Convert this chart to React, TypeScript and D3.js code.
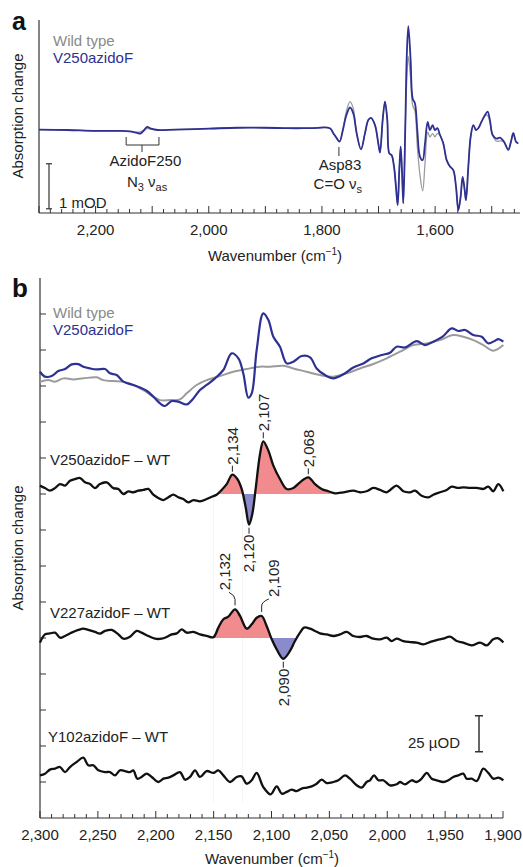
import * as d3 from 'd3';

type Pt = [number, number];

const FONT = '"Liberation Sans", Arial, Helvetica, sans-serif';
const BLUE = '#2e3192';
const GRAY = '#9b9b9b';
const INK = '#222';
const PINK = '#f28b8d';
const LAVENDER = '#8a8acc';

// ---- panel a : wavenumber (cm-1) / absorption change (mOD)
const aWave = [
  2300, 2250, 2200, 2160, 2140, 2128, 2121, 2114, 2109, 2102, 2090, 2060, 2000, 1950, 1900, 1860,
  1820, 1786, 1780, 1774, 1769, 1763, 1757.5, 1750.4, 1744.6, 1738.7, 1731, 1723.9, 1718.1, 1713.3,
  1706.3, 1700.4, 1697.4, 1692.7, 1688.6, 1684.5, 1681, 1676.8, 1672.7, 1669.2, 1666.2, 1663.3,
  1660.9, 1658.6, 1656.2, 1652.7, 1650.3, 1647.4, 1643.3, 1639.7, 1635.6, 1631.5, 1626.8, 1622,
  1617.9, 1613.2, 1609.1, 1604.4, 1600.3, 1596.1, 1591.4, 1585.5, 1579.6, 1573.8, 1567.9, 1563.1,
  1559, 1554.9, 1551.4, 1547.8, 1545.5, 1541.3, 1537.2, 1532.5, 1527.8, 1523.7, 1517.8, 1511.9,
  1507.2, 1503.1, 1498.4, 1491.3, 1485.4, 1478.3, 1470.7, 1466, 1461.8, 1457.1, 1453,
];
const aMutant = [
  0.01, 0, -0.02, -0.02, -0.03, -0.06, -0.08, 0, 0.07, 0.03, 0, 0.01, 0.03, 0.05, 0.05, 0.04,
  0.04, 0.04, -0.07, -0.18, -0.26, 0, 0.3, 0.5, 0.37, -0.07, -0.43, -0.07, 0.22, 0.27,
  0.11, -0.3, -0.5, 0.22, 0.63, 0.22, -0.52, -0.56, -0.81, -1.26, -1.67, -0.89,
  -0.37, -0.89, -1.63, 0.07, 1.56, 2.31, 1.56, 0.7, 0.59, 0, -0.59, -0.67,
  -0.3, 0.18, 0, 0.11, 0, 0.04, -0.11, -0.3, -0.67, -0.81, -0.89, -1.26,
  -1.78, -1.48, -1.04, -1.33, -1.56, -0.81, -0.15, 0.11, 0, 0.04, 0.19, 0.33,
  0.41, 0.22, -0.11, -0.19, -0.17, -0.26, -0.44, -0.26, -0.07, -0.26, -0.3,
];
const aWildType = [
  0.01, 0, -0.02, -0.02, -0.03, -0.05, -0.04, 0, 0.03, 0.02, 0, 0.01, 0.03, 0.05, 0.05, 0.04,
  0.04, 0.04, -0.07, -0.18, -0.26, 0, 0.38, 0.63, 0.48, -0.07, -0.43, -0.07, 0.22, 0.27,
  0.11, -0.3, -0.5, 0.22, 0.63, 0.22, -0.52, -0.56, -0.81, -1.26, -1.67, -0.89,
  -0.37, -0.89, -1.63, 0.07, 1.05, 1.63, 1.15, 0.55, 0.42, -0.35, -1.0, -1.35,
  -0.75, -0.05, -0.15, -0.08, -0.15, -0.08, -0.11, -0.3, -0.67, -0.81, -0.89, -1.26,
  -1.78, -1.48, -1.04, -1.33, -1.56, -0.81, -0.15, 0.11, 0, 0.04, 0.19, 0.33,
  0.32, 0.17, -0.11, -0.25, -0.24, -0.26, -0.44, -0.26, -0.07, -0.26, -0.3,
];
const aTickLabels = [2200, 2000, 1800, 1600];

// ---- panel b : wavenumber (cm-1) / absorption change (µOD), each trace around its own zero
const bTopMutant: Pt[] = [
  [2300, -15.1], [2295.7, -18.5], [2289.9, -18.1], [2284.2, -14.6], [2278.4, -13.2], [2272.7, -10],
  [2266.9, -9.8], [2262.6, -11.6], [2256.8, -12.8], [2251, -13.5], [2243.8, -13.2], [2239.5, -16.2],
  [2233.8, -17.4], [2228, -22], [2220.8, -23.9], [2213.6, -26], [2207.9, -28.3], [2202.1, -32.4],
  [2196.3, -37.1], [2192, -38.9], [2186.2, -35.4], [2180.5, -35.9], [2173.3, -37.8], [2167.5, -33.6],
  [2161.8, -27.8], [2156, -24.3], [2148.8, -19.7], [2141.6, -13.9], [2134.4, -2.3], [2128.6, -5.8],
  [2124.4, -16.2], [2120, -33.1], [2117.1, -30.1], [2112.8, 0], [2107.1, 25.4], [2102.7, 20.8],
  [2098.4, 9.2], [2092.7, 2.3], [2086.9, -9.3], [2081.1, -8.1], [2073.9, -4.2], [2066.7, -5.1],
  [2061, -12.8], [2053.8, -17.4], [2046.6, -19.7], [2037.9, -16.9], [2029.3, -12.1], [2020.7, -9.3],
  [2013.5, -5.8], [2004.8, -3.5], [1997.6, -1.9], [1991.9, 2.3], [1984.7, 1.8], [1974.6, 6.2],
  [1967.4, 3.4], [1960.2, 5.8], [1951.6, 9.7], [1944.4, 15], [1938.6, 13.2], [1932.8, 13.9],
  [1925.6, 10.4], [1918.4, 9.2], [1912.7, 4.6], [1906.9, 6.5], [1904, 7.6], [1899.7, 5.8],
];
const bTopWildType: Pt[] = [
  [2300, -22], [2292.8, -20.9], [2287.1, -22], [2279.8, -19.7], [2271.2, -20.4], [2262.6, -19.7],
  [2251, -19], [2245.3, -20.9], [2236.6, -21.6], [2228, -22], [2219.4, -24.3], [2210.7, -27.8],
  [2202.1, -32.4], [2196.3, -34.8], [2187.7, -34.8], [2179.1, -34.3], [2173.3, -30.1], [2164.7, -24.3],
  [2156, -20.9], [2144.5, -18.1], [2133, -15.1], [2121.5, -13.2], [2109.9, -11.6], [2101.3, -11.6],
  [2089.8, -10.9], [2081.1, -12.8], [2069.6, -15.1], [2058.1, -17.4], [2046.6, -18.5], [2035, -16.2],
  [2023.5, -12.8], [2012, -9.7], [2000.5, -5.8], [1989, -1.2], [1977.5, 3.4], [1966, 4.6],
  [1954.5, 6.9], [1943, 10.4], [1934.3, 9.2], [1925.6, 6.9], [1917, 3.4], [1908.4, -0.5], [1899.7, 3.4],
];
const bDiff250: Pt[] = [
  [2300, 5.8], [2295.7, 4.1], [2291.4, 2.3], [2287, 4.1], [2282.7, 6.9], [2278.4, 5.8], [2274.1, 9.2],
  [2269.8, 10.4], [2265.4, 11.1], [2261.1, 8.1], [2256.8, 6.9], [2252.5, 4.1], [2248.2, 6.9],
  [2242.4, 8.1], [2236.6, 4.1], [2232.3, 3.5], [2228, 0], [2223.7, 1.8], [2219.4, 1.2], [2215, 2.3],
  [2210.7, 2.8], [2206.4, 3.5], [2202.1, -0.5], [2197.8, -2.8], [2193.4, -4.2], [2189.1, -2.3],
  [2184.8, -0.5], [2180.5, -2.3], [2176.2, -3.5], [2171.9, -5.8], [2167.5, -4.2], [2161.8, -5.1],
  [2156, -3.5], [2151.7, -1.9], [2147.4, -0.5], [2143.1, 2.8], [2138.7, 6.9], [2133.8, 13.4],
  [2129.5, 10.4], [2125.8, 3.5], [2122.3, -9.3], [2119.4, -21.3], [2116.6, -13.9], [2113.7, 3.5],
  [2109.9, 27.8], [2107.1, 36.6], [2102.7, 30.1], [2098.4, 19.7], [2092.7, 10.4], [2086.9, 3.5],
  [2081.1, 4.2], [2075.4, 8.1], [2068.2, 11.6], [2062.4, 6.9], [2056.7, 3.5], [2050.9, 1.9],
  [2045.1, 0.5], [2037.9, 1.2], [2029.3, 2.3], [2023.5, 1.2], [2017.8, 1.9], [2012, 4.2],
  [2006.2, 2.8], [2000.5, 1.2], [1991.9, 5.8], [1986.1, 1.9], [1980.4, 1.2], [1976, 2.3],
  [1970.3, -1.2], [1964.5, -2.3], [1960.2, -0.5], [1954.5, 1.2], [1948.7, 2.8], [1944.4, 5.1],
  [1938.6, 4.2], [1934.3, 4.6], [1928.5, 4.2], [1922.7, 4.2], [1917, 3.5], [1912.7, 5.1],
  [1908.4, 1.9], [1904, 6.9], [1899.7, 1.9],
];
const bDiff227: Pt[] = [
  [2300, -3.2], [2295.7, 2.5], [2291.4, 3.2], [2287, 3.7], [2282.7, 0.2], [2278.4, 1.4], [2272.7, 3.7],
  [2266.9, 5.6], [2262.6, 6.5], [2258.3, 5.6], [2252.5, 4.2], [2248.2, 3], [2243.8, 4.9],
  [2238.1, 5.6], [2232.3, 2.5], [2228, -0.5], [2222.2, 0.9], [2216.5, 4.9], [2212.2, 3.7],
  [2206.4, 1.4], [2200.6, -0.5], [2194.9, -0.5], [2190.6, 0.7], [2186.2, 2.5], [2181.9, 3.2],
  [2177.6, 6], [2173.3, 3.7], [2167.5, 4.2], [2161.8, 2.5], [2156, 1.4], [2150.2, 0.5],
  [2145.9, 7.2], [2141.6, 13], [2137.3, 14.8], [2131.5, 19.9], [2127.2, 15.3], [2121.4, 6.5],
  [2117.1, 9.5], [2112.8, 14.1], [2108.5, 15.3], [2104.2, 8.3], [2099.8, -0.9], [2095.5, -7.9],
  [2089.8, -14.4], [2084, -9], [2079.7, -2.1], [2075.4, 3.7], [2071.9, 7.2], [2066.7, 6.5],
  [2062.4, 4.9], [2058.1, 3.2], [2052.3, 2.5], [2046.6, 1.4], [2040.8, 2.5], [2035, 4.2],
  [2029.3, 1.4], [2023.5, 0.7], [2017.8, 1.4], [2012, -0.5], [2006.2, -0.9], [2000.5, 0.2],
  [1996.2, -2.1], [1991.9, -0.5], [1986.1, -2.1], [1980.4, -2.8], [1974.6, -3.2], [1968.8, -4.4],
  [1963.1, -2.8], [1957.3, -1.4], [1951.6, -0.5], [1945.8, 0.9], [1940, -2.1], [1934.3, -3.2],
  [1927.1, -5.1], [1919.8, -3.2], [1914.1, -5.1], [1908.4, -0.9], [1904, -0.2], [1899.7, -3.2],
];
const bDiff102: Pt[] = [
  [2300, 4.6], [2295.7, 5.8], [2291.4, 8.6], [2287, 9.3], [2282.7, 10.4], [2278.4, 6.9], [2274.1, 10.4],
  [2268.3, 13.9], [2262.6, 16.9], [2258.3, 11.6], [2253.9, 11.6], [2249.6, 8.1], [2243.8, 6.9],
  [2239.5, 6.9], [2235.2, 4.6], [2230.9, 8.1], [2226.6, 7.6], [2222.2, 6.9], [2219.4, 8.1],
  [2215.9, 2.3], [2212.2, 3.5], [2207.9, 5.8], [2203.5, 3.5], [2197.8, 0], [2193.4, 2.3],
  [2189.1, 3], [2184.8, 4.6], [2179.1, 6.9], [2174.7, 1.6], [2170.4, 3.5], [2166.1, 8.1],
  [2161.8, 3.5], [2156, 7.6], [2150.2, 6.3], [2145.9, 8.1], [2141.6, 4.6], [2135.8, 0],
  [2130.1, 3.5], [2125.8, 3.9], [2121.4, -1.2], [2117.1, 1.2], [2112.8, 6.3], [2107.1, -3.5],
  [2100.7, -8.6], [2095.5, -3], [2091.2, -8.1], [2086.9, -6.9], [2082.6, -5.3], [2078.3, -6.3],
  [2073.9, -4.6], [2069.6, -3.9], [2065.3, -3], [2061, -1.2], [2056.7, 1.6], [2052.3, -0.7],
  [2046.6, 0], [2042.2, 1.2], [2036.5, 4.6], [2032.2, 2.3], [2026.4, -2.3], [2022.1, -3.9],
  [2017.8, 0], [2014.9, 1.2], [2011.4, 4.6], [2007.7, 1.2], [2003.4, 1.2], [1997.6, -2.3],
  [1991.9, -1.6], [1989, 0], [1984.7, -1.6], [1978.9, 1.2], [1974.6, 0], [1970.3, 2.3],
  [1965.9, 6.3], [1961.6, 2.3], [1957.3, 1.2], [1951.5, 0], [1947.2, 1.2], [1942.9, 3.5],
  [1938.6, 4.6], [1934.3, 5.8], [1931.4, 2.3], [1927.1, 2.3], [1922.7, 0.7], [1917, 9.3],
  [1912.7, 6.3], [1908.4, 2.3], [1904, 3], [1899.7, 1.2],
];
const bTickLabels = [2300, 2250, 2200, 2150, 2100, 2050, 2000, 1950, 1900];

const peaks250 = [
  { w: 2134, label: '2,134', side: 'up', bend: 0 },
  { w: 2107, label: '2,107', side: 'up', bend: 0 },
  { w: 2068, label: '2,068', side: 'up', bend: 0 },
  { w: 2120, label: '2,120', side: 'down', bend: 0 },
];
const peaks227 = [
  { w: 2132, label: '2,132', side: 'up', bend: -10 },
  { w: 2109, label: '2,109', side: 'up', bend: 12 },
  { w: 2090, label: '2,090', side: 'down', bend: 0 },
];

const smooth = d3.curveCatmullRom.alpha(0.5);
const fmt = d3.format(',');

function nearest(series: Pt[], w: number): Pt {
  return d3.least(series, (d) => Math.abs(d[0] - w)) as Pt;
}

export default function App() {
  // panel a scales
  const xA = d3.scaleLinear([2300, 1450], [39, 520]);
  const yA = d3.scaleLinear([-1.844, 2.444], [213, 20]);
  const lineA = d3
    .line<number>()
    .x((d, i) => xA(aWave[i]))
    .y((d) => yA(d))
    .curve(smooth);

  // panel b scales
  const xB = d3.scaleLinear([2300, 1900], [40, 503]);
  const yB = d3.scaleLinear([-25, 350], [818, 278]);
  const lineB = (off: number) =>
    d3
      .line<Pt>()
      .x((d) => xB(d[0]))
      .y((d) => yB(d[1] + off))
      .curve(smooth);
  const areaB = (off: number) =>
    d3
      .area<Pt>()
      .x((d) => xB(d[0]))
      .y0(yB(off))
      .y1((d) => yB(d[1] + off))
      .curve(smooth);

  const fills = [
    { id: 'f250', data: bDiff250, off: 200, from: 2148, to: 2049 },
    { id: 'f227', data: bDiff227, off: 100, from: 2151, to: 2077 },
  ];

  const peakLabels = (series: Pt[], off: number, list: typeof peaks250) =>
    list.map((p, i) => {
      const [pw, pv] = nearest(series, p.w);
      const px = xB(pw);
      const py = yB(pv + off);
      if (p.side === 'down') {
        return (
          <g key={i}>
            <line x1={px} x2={px} y1={py + 3} y2={py + 9} stroke={INK} strokeWidth={1} />
            <text
              transform={`translate(${px},${py + 10}) rotate(-90)`}
              dy="0.35em"
              textAnchor="end"
              fontSize={15}
              fill={INK}
            >
              {p.label}
            </text>
          </g>
        );
      }
      if (p.bend) {
        return (
          <g key={i}>
            <path
              d={`M${px},${py - 4} V${py - 10} Q${px},${py - 14} ${px + p.bend * 0.6},${py - 17}`}
              fill="none"
              stroke={INK}
              strokeWidth={1}
            />
            <text
              transform={`translate(${px + p.bend},${py - 19}) rotate(-90)`}
              dy="0.35em"
              fontSize={15}
              fill={INK}
            >
              {p.label}
            </text>
          </g>
        );
      }
      return (
        <g key={i}>
          <line x1={px} x2={px} y1={py - 3} y2={py - 9} stroke={INK} strokeWidth={1} />
          <text
            transform={`translate(${px},${py - 10}) rotate(-90)`}
            dy="0.35em"
            fontSize={15}
            fill={INK}
          >
            {p.label}
          </text>
        </g>
      );
    });

  return (
    <svg
      width={523}
      height={867}
      style={{ position: 'absolute', left: 0, top: 0, background: '#fff' }}
      fontFamily={FONT}
    >
      {/* ================= panel a ================= */}
      <text x={12} y={30} fontSize={25} fontWeight="bold" fill="#111">a</text>
      <text transform="translate(23,116) rotate(-90)" textAnchor="middle" fontSize={15} fill={INK}>
        Absorption change
      </text>
      <line x1={39} x2={39} y1={20} y2={213} stroke="#333" strokeWidth={1.2} />
      <line x1={39} x2={520} y1={213} y2={213} stroke="#333" strokeWidth={1.2} />
      {d3.range(2300, 1449, -20).map((t) => (
        <line
          key={t}
          x1={xA(t)}
          x2={xA(t)}
          y1={213}
          y2={t % 100 === 0 ? 206 : 209}
          stroke="#333"
          strokeWidth={1}
        />
      ))}
      {aTickLabels.map((t) => (
        <text key={t} x={xA(t)} y={235} textAnchor="middle" fontSize={15} fill={INK}>
          {fmt(t)}
        </text>
      ))}
      <text x={275} y={261} textAnchor="middle" fontSize={15} fill={INK}>
        Wavenumber (cm<tspan fontSize={10} dy={-6}>−1</tspan>
        <tspan dy={6}>)</tspan>
      </text>

      <path d={lineA(aWildType) ?? ''} fill="none" stroke={GRAY} strokeWidth={1.3} />
      <path d={lineA(aMutant) ?? ''} fill="none" stroke={BLUE} strokeWidth={1.8} />

      <text x={53} y={46} fontSize={15} fill="#8a8a8a">Wild type</text>
      <text x={53} y={63} fontSize={15} fill={BLUE}>V250azidoF</text>

      {/* scale bar 1 mOD */}
      <g stroke="#333" strokeWidth={1.2}>
        <line x1={49} x2={49} y1={yA(-1.75)} y2={yA(-0.75)} />
        <line x1={46} x2={52} y1={yA(-1.75)} y2={yA(-1.75)} />
        <line x1={46} x2={52} y1={yA(-0.75)} y2={yA(-0.75)} />
      </g>
      <text x={59} y={208} fontSize={15} fill={INK}>1 mOD</text>

      {/* azide bracket */}
      <path
        d={`M${xA(2146)},137 V145 H${xA(2088)} V137 M${xA(2118)},145 V152`}
        fill="none"
        stroke="#333"
        strokeWidth={1}
      />
      <text x={xA(2112)} y={166} textAnchor="middle" fontSize={15} fill={INK}>AzidoF250</text>
      <text x={xA(2109)} y={187} textAnchor="middle" fontSize={15} fill={INK}>
        N<tspan fontSize={11} dy={4}>3</tspan>
        <tspan dy={-4}> ν</tspan>
        <tspan fontSize={11} dy={4}>as</tspan>
      </text>
      <line x1={xA(1770)} x2={xA(1770)} y1={147} y2={156} stroke="#333" strokeWidth={1} />
      <text x={xA(1768)} y={170} textAnchor="middle" fontSize={15} fill={INK}>Asp83</text>
      <text x={xA(1772)} y={189} textAnchor="middle" fontSize={15} fill={INK}>
        C=O ν<tspan fontSize={11} dy={4}>s</tspan>
      </text>

      {/* ================= panel b ================= */}
      <text x={12} y={297} fontSize={26} fontWeight="bold" fill="#111">b</text>
      <text transform="translate(23,548) rotate(-90)" textAnchor="middle" fontSize={15} fill={INK}>
        Absorption change
      </text>

      {/* faint guide lines */}
      {[2150, 2125].map((w) => (
        <line key={w} x1={xB(w)} x2={xB(w)} y1={yB(200)} y2={yB(-14)} stroke="#f4f4f4" strokeWidth={1} />
      ))}

      <line x1={40} x2={40} y1={278} y2={818} stroke="#333" strokeWidth={1.2} />
      <line x1={40} x2={503} y1={818} y2={818} stroke="#333" strokeWidth={1.2} />
      {d3.range(0, 326, 25).map((t) => (
        <line key={t} x1={40} x2={46} y1={yB(t)} y2={yB(t)} stroke="#333" strokeWidth={1} />
      ))}
      {d3.range(2300, 1899, -10).map((t) => (
        <line
          key={t}
          x1={xB(t)}
          x2={xB(t)}
          y1={818}
          y2={t % 50 === 0 ? 811 : 814}
          stroke="#333"
          strokeWidth={1}
        />
      ))}
      {bTickLabels.map((t) => (
        <text key={t} x={xB(t)} y={840} textAnchor="middle" fontSize={15} fill={INK}>
          {fmt(t)}
        </text>
      ))}
      <text x={272} y={864} textAnchor="middle" fontSize={15} fill={INK}>
        Wavenumber (cm<tspan fontSize={10} dy={-6}>−1</tspan>
        <tspan dy={6}>)</tspan>
      </text>

      {/* top absorption spectra */}
      <path d={lineB(300)(bTopWildType) ?? ''} fill="none" stroke={GRAY} strokeWidth={2} />
      <path d={lineB(300)(bTopMutant) ?? ''} fill="none" stroke={BLUE} strokeWidth={2.2} />
      <text x={53} y={318} fontSize={15} fill="#8a8a8a">Wild type</text>
      <text x={53} y={335} fontSize={15} fill={BLUE}>V250azidoF</text>

      {/* shaded bands */}
      <defs>
        {fills.map((f) => (
          <g key={f.id}>
            <clipPath id={`${f.id}p`}>
              <rect x={xB(f.from)} width={xB(f.to) - xB(f.from)} y={278} height={yB(f.off) - 278} />
            </clipPath>
            <clipPath id={`${f.id}n`}>
              <rect x={xB(f.from)} width={xB(f.to) - xB(f.from)} y={yB(f.off)} height={818 - yB(f.off)} />
            </clipPath>
          </g>
        ))}
      </defs>
      {fills.map((f) => (
        <g key={f.id}>
          <path d={areaB(f.off)(f.data) ?? ''} fill={PINK} clipPath={`url(#${f.id}p)`} />
          <path d={areaB(f.off)(f.data) ?? ''} fill={LAVENDER} clipPath={`url(#${f.id}n)`} />
        </g>
      ))}

      {/* difference spectra */}
      <path d={lineB(200)(bDiff250) ?? ''} fill="none" stroke="#111" strokeWidth={2.3} />
      <path d={lineB(100)(bDiff227) ?? ''} fill="none" stroke="#111" strokeWidth={2.3} />
      <path d={lineB(0)(bDiff102) ?? ''} fill="none" stroke="#111" strokeWidth={2.3} />

      <text x={50} y={465} fontSize={15} fill={INK}>V250azidoF – WT</text>
      <text x={50} y={618} fontSize={15} fill={INK}>V227azidoF – WT</text>
      <text x={48} y={742} fontSize={15} fill={INK}>Y102azidoF – WT</text>

      {peakLabels(bDiff250, 200, peaks250)}
      {peakLabels(bDiff227, 100, peaks227)}

      {/* scale bar 25 µOD */}
      <g stroke="#333" strokeWidth={1.5}>
        <line x1={479} x2={479} y1={yB(21)} y2={yB(46)} />
        <line x1={475} x2={483} y1={yB(21)} y2={yB(21)} />
        <line x1={475} x2={483} y1={yB(46)} y2={yB(46)} />
      </g>
      <text x={408} y={748} fontSize={15} fill={INK}>25 µOD</text>
    </svg>
  );
}
